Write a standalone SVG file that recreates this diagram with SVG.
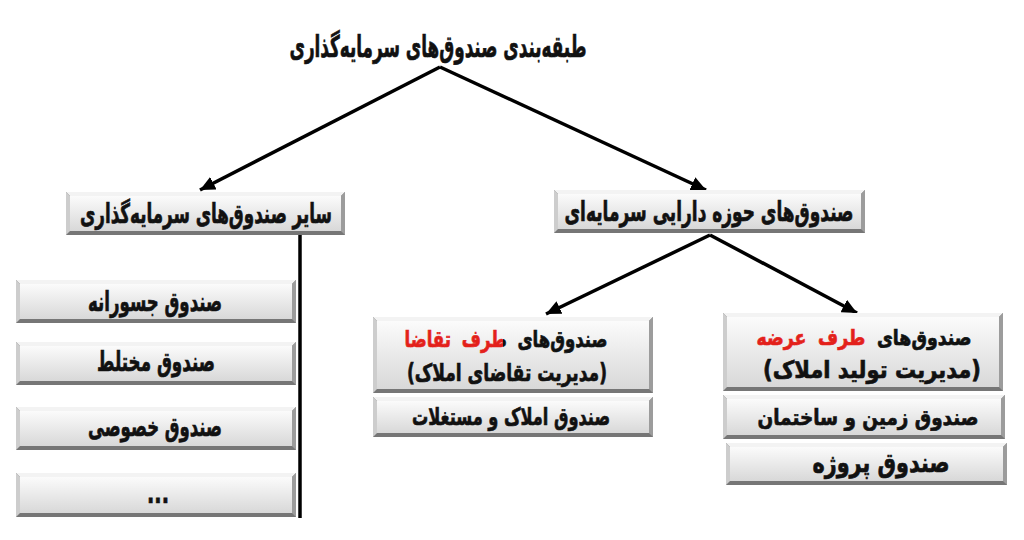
<svg xmlns="http://www.w3.org/2000/svg" width="1024" height="540" viewBox="0 0 1024 540">
<defs>
<linearGradient id="face" x1="0" y1="0" x2="0" y2="1">
<stop offset="0" stop-color="#fbfbfb"/>
<stop offset="1" stop-color="#d8d8d8"/>
</linearGradient>
<linearGradient id="mixD" gradientUnits="userSpaceOnUse" x1="0" y1="0" x2="1024" y2="0">
<stop offset="0.491" stop-color="#e3201b"/>
<stop offset="0.491" stop-color="#111"/>
</linearGradient>
<linearGradient id="mixS" gradientUnits="userSpaceOnUse" x1="0" y1="0" x2="1024" y2="0">
<stop offset="0.8466" stop-color="#e3201b"/>
<stop offset="0.8466" stop-color="#111"/>
</linearGradient>
<marker id="arr" markerUnits="userSpaceOnUse" markerWidth="16" markerHeight="14" refX="15" refY="7" orient="auto">
<path d="M0,0 L15,7 L0,14 Z" fill="#000"/>
</marker>
<style>
.base{fill:#767676}
.top{fill:#f3f3f3}
.left{fill:#cdcdcd}
.right{fill:#9c9c9c}
.face{fill:url(#face)}
text{font-family:"DejaVu Sans","Noto Sans",sans-serif;font-weight:bold;fill:#111;stroke:#111;stroke-width:0.7;text-anchor:middle;direction:rtl}
.lbl{font-size:27px}
.lbl2{font-size:24px}
.lbl3{font-size:22px}
.ttl{font-size:30px}
.mixD{fill:url(#mixD);stroke:url(#mixD);font-size:23px;word-spacing:7px}
.mixS{fill:url(#mixS);stroke:url(#mixS);font-size:21.5px;word-spacing:7px}
.con{stroke:#000;stroke-width:3.5;fill:none}
</style>
</defs>
<rect width="1024" height="540" fill="#fff"/>
<g id="title"><text class="ttl" x="438" y="57" textLength="297" lengthAdjust="spacingAndGlyphs">طبقه&#8204;بندی صندوق&#8204;های سرمایه&#8204;گذاری</text></g>
<g id="connectors">
<line class="con" x1="440" y1="67" x2="200" y2="190" marker-end="url(#arr)"/>
<line class="con" x1="440" y1="67" x2="706" y2="190" marker-end="url(#arr)"/>
<line class="con" x1="710" y1="235" x2="546" y2="314" marker-end="url(#arr)"/>
<line class="con" x1="710" y1="235" x2="857" y2="313" marker-end="url(#arr)"/>
<line class="con" x1="300" y1="235" x2="300" y2="518"/>
</g>
<g id="n-other">
<rect class="base" x="66" y="192" width="279" height="43"/>
<polygon class="top" points="66,192 345,192 341,196 70,196"/>
<polygon class="left" points="66,192 70,196 70,231 66,235"/>
<polygon class="right" points="345,192 345,235 341,231 341,196"/>
<rect class="face" x="70" y="196" width="271" height="35"/>
<text class="lbl" x="206" y="223" textLength="252" lengthAdjust="spacingAndGlyphs">سایر صندوق&#8204;های سرمایه&#8204;گذاری</text>
</g>
<g id="n-asset">
<rect class="base" x="554" y="190" width="311" height="43"/>
<polygon class="top" points="554,190 865,190 861,194 558,194"/>
<polygon class="left" points="554,190 558,194 558,229 554,233"/>
<polygon class="right" points="865,190 865,233 861,229 861,194"/>
<rect class="face" x="558" y="194" width="303" height="35"/>
<text class="lbl" x="709" y="221" textLength="289" lengthAdjust="spacingAndGlyphs">صندوق&#8204;های حوزه دارایی سرمایه&#8204;ای</text>
</g>
<g id="n-venture">
<rect class="base" x="16" y="280" width="280" height="43"/>
<polygon class="top" points="16,280 296,280 292,284 20,284"/>
<polygon class="left" points="16,280 20,284 20,319 16,323"/>
<polygon class="right" points="296,280 296,323 292,319 292,284"/>
<rect class="face" x="20" y="284" width="272" height="35"/>
<text class="lbl" x="155" y="311" textLength="134" lengthAdjust="spacingAndGlyphs">صندوق جسورانه</text>
</g>
<g id="n-mixed">
<rect class="base" x="16" y="342" width="280" height="43"/>
<polygon class="top" points="16,342 296,342 292,346 20,346"/>
<polygon class="left" points="16,342 20,346 20,381 16,385"/>
<polygon class="right" points="296,342 296,385 292,381 292,346"/>
<rect class="face" x="20" y="346" width="272" height="35"/>
<text class="lbl" x="156" y="371" textLength="118" lengthAdjust="spacingAndGlyphs">صندوق مختلط</text>
</g>
<g id="n-private">
<rect class="base" x="16" y="407" width="280" height="43"/>
<polygon class="top" points="16,407 296,407 292,411 20,411"/>
<polygon class="left" points="16,407 20,411 20,446 16,450"/>
<polygon class="right" points="296,407 296,450 292,446 292,411"/>
<rect class="face" x="20" y="411" width="272" height="35"/>
<text class="lbl" x="155" y="436" textLength="134" lengthAdjust="spacingAndGlyphs">صندوق خصوصی</text>
</g>
<g id="n-more">
<rect class="base" x="16" y="473" width="280" height="44"/>
<polygon class="top" points="16,473 296,473 292,477 20,477"/>
<polygon class="left" points="16,473 20,477 20,513 16,517"/>
<polygon class="right" points="296,473 296,517 292,513 292,477"/>
<rect class="face" x="20" y="477" width="272" height="36"/>
<text class="lbl" x="158" y="503" textLength="22" lengthAdjust="spacingAndGlyphs">...</text>
</g>
<g id="n-demand">
<rect class="base" x="373" y="317" width="280" height="76"/>
<polygon class="top" points="373,317 653,317 649,321 377,321"/>
<polygon class="left" points="373,317 377,321 377,389 373,393"/>
<polygon class="right" points="653,317 653,393 649,389 649,321"/>
<rect class="face" x="377" y="321" width="272" height="68"/>
<text class="mixD" x="506" y="347" textLength="203" lengthAdjust="spacingAndGlyphs">صندوق&#8204;های طرف تقاضا</text>
<text class="lbl2" x="507" y="381" textLength="200" lengthAdjust="spacingAndGlyphs">(مدیریت تقاضای املاک)</text>
</g>
<g id="n-realestate">
<rect class="base" x="373" y="397" width="280" height="40"/>
<polygon class="top" points="373,397 653,397 649,401 377,401"/>
<polygon class="left" points="373,397 377,401 377,433 373,437"/>
<polygon class="right" points="653,397 653,437 649,433 649,401"/>
<rect class="face" x="377" y="401" width="272" height="32"/>
<text class="lbl2" x="511" y="425" textLength="198" lengthAdjust="spacingAndGlyphs">صندوق املاک و مستغلات</text>
</g>
<g id="n-supply">
<rect class="base" x="723" y="313" width="280" height="78"/>
<polygon class="top" points="723,313 1003,313 999,317 727,317"/>
<polygon class="left" points="723,313 727,317 727,387 723,391"/>
<polygon class="right" points="1003,313 1003,391 999,387 999,317"/>
<rect class="face" x="727" y="317" width="272" height="70"/>
<text class="mixS" x="864" y="345" textLength="215" lengthAdjust="spacingAndGlyphs">صندوق&#8204;های طرف عرضه</text>
<text class="lbl2" x="872" y="378" textLength="218" lengthAdjust="spacingAndGlyphs">(مدیریت تولید املاک)</text>
</g>
<g id="n-land">
<rect class="base" x="723" y="395" width="282" height="44"/>
<polygon class="top" points="723,395 1005,395 1001,399 727,399"/>
<polygon class="left" points="723,395 727,399 727,435 723,439"/>
<polygon class="right" points="1005,395 1005,439 1001,435 1001,399"/>
<rect class="face" x="727" y="399" width="274" height="36"/>
<text class="lbl3" x="868" y="425" textLength="221" lengthAdjust="spacingAndGlyphs">صندوق زمین و ساختمان</text>
</g>
<g id="n-project">
<rect class="base" x="726" y="443" width="281" height="42"/>
<polygon class="top" points="726,443 1007,443 1003,447 730,447"/>
<polygon class="left" points="726,443 730,447 730,481 726,485"/>
<polygon class="right" points="1007,443 1007,485 1003,481 1003,447"/>
<rect class="face" x="730" y="447" width="273" height="34"/>
<text class="lbl" x="881" y="472" textLength="137" lengthAdjust="spacingAndGlyphs">صندوق پروژه</text>
</g>
</svg>
